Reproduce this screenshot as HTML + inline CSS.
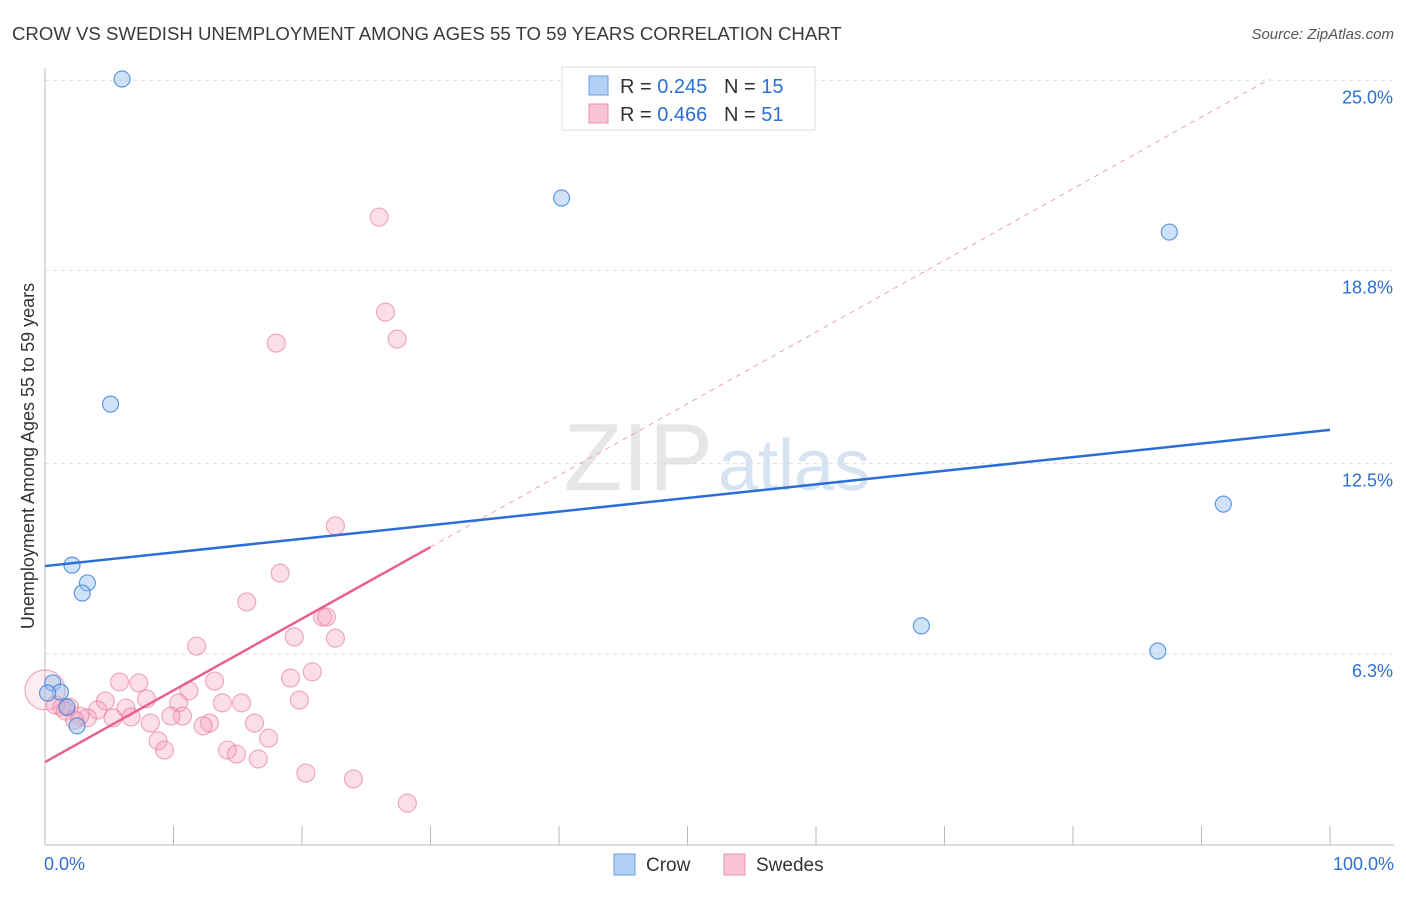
<!DOCTYPE html>
<html><head><meta charset="utf-8"><style>
body{margin:0;background:#fff;font-family:"Liberation Sans",sans-serif;}
svg text{font-family:"Liberation Sans",sans-serif;}
</style></head><body>
<svg id="chart" width="1406" height="892">
<text x="12" y="40" font-size="18.6" fill="#3a3a3a">CROW VS SWEDISH UNEMPLOYMENT AMONG AGES 55 TO 59 YEARS CORRELATION CHART</text>
<text x="1394" y="39" font-size="15" fill="#555" font-style="italic" text-anchor="end">Source: ZipAtlas.com</text>
<text x="713" y="490" font-size="96" fill="#e6e6e6" font-family="Liberation Serif" text-anchor="end">ZIP</text>
<text x="718" y="490" font-size="72" fill="#d5e3f3">atlas</text>
<text transform="translate(34,456) rotate(-90)" font-size="18" fill="#333" text-anchor="middle">Unemployment Among Ages 55 to 59 years</text>
<g id="grid"></g><g id="pts"></g><g id="lines"></g>
<g>
<rect x="562" y="67" width="253" height="63" fill="#fff" stroke="#ddd"/>
<rect x="589" y="76" width="19" height="19" fill="#b3d0f5" stroke="#6a9ee0"/>
<rect x="589" y="104" width="19" height="19" fill="#f9c4d3" stroke="#ec8fab"/>
<text x="620" y="93" font-size="20" fill="#333">R = <tspan fill="#2b6fd6">0.245</tspan>&#160;&#160;&#160;N = <tspan fill="#2b6fd6">15</tspan></text>
<text x="620" y="121" font-size="20" fill="#333">R = <tspan fill="#2b6fd6">0.466</tspan>&#160;&#160;&#160;N = <tspan fill="#2b6fd6">51</tspan></text>
</g>
<g>
<rect x="614" y="854" width="21" height="21" fill="#b3d0f5" stroke="#6a9ee0"/>
<text x="646" y="871" font-size="19" fill="#333">Crow</text>
<rect x="724" y="854" width="21" height="21" fill="#f9c4d3" stroke="#ec8fab"/>
<text x="756" y="871" font-size="19" fill="#333">Swedes</text>
</g>
<text x="44" y="870" font-size="18" fill="#2b6fd6">0.0%</text>
<text x="1394" y="870" font-size="18" fill="#2b6fd6" text-anchor="end">100.0%</text>
</svg>
<script>
const crowX=[6.0,40.2,87.5,5.1,91.7,2.1,3.3,2.9,68.2,86.6,0.6,1.2,0.2,1.7,2.5];
const crowY=[25.04,21.16,20.05,14.44,11.18,9.19,8.61,8.28,7.21,6.39,5.35,5.05,5.02,4.56,3.95];
const swedX=[26.0,26.5,27.4,18.0,22.6,18.3,15.7,21.6,21.9,19.4,22.6,11.8,20.8,19.1,5.8,7.3,13.2,11.2,7.9,4.7,19.8,13.8,15.3,10.4,6.3,4.1,1.9,1.3,10.7,6.7,9.8,5.3,3.3,2.7,8.2,12.8,16.3,12.3,8.8,17.4,9.3,14.2,14.9,16.6,20.3,24.0,28.2,0,0.8,1.6,2.3];
const swedY=[20.54,17.44,16.56,16.43,10.47,8.93,7.99,7.50,7.50,6.85,6.81,6.55,5.71,5.51,5.38,5.35,5.41,5.09,4.83,4.76,4.79,4.70,4.70,4.70,4.53,4.47,4.56,4.56,4.27,4.24,4.27,4.21,4.21,4.27,4.04,4.04,4.04,3.95,3.46,3.55,3.16,3.16,3.03,2.87,2.41,2.22,1.43,5.12,4.63,4.43,4.14];
const yTicks=[25.0,18.8,12.5,6.3];
const yTickLabels=["25.0%","18.8%","12.5%","6.3%"];
const crowFit=[9.16,13.6];
const swedFit=[2.77,9.78];
const swedFitEnd=30;
const NS="http://www.w3.org/2000/svg";
const X=v=>45+v*12.85, Y=v=>847-v*30.67;
function mk(tag,attrs,parent){const e=document.createElementNS(NS,tag);for(const k in attrs)e.setAttribute(k,attrs[k]);document.getElementById(parent).appendChild(e);return e;}
yTicks.forEach((t,i)=>{
 const l=mk('line',{x1:45,x2:1394,y1:Y(t),y2:Y(t),stroke:'#ddd','stroke-dasharray':'4,4'},'grid');
 
 
 const tx=mk('text',{x:1393,y:Y(t)+23,'font-size':18,fill:'#2b6fd6','text-anchor':'end'},'grid');
 tx.textContent=yTickLabels[i];
 
 
});
const ax=mk('line',{x1:45,x2:45,y1:68,y2:845,stroke:'#bbb'},'grid');


const bx=mk('line',{x1:45,x2:1394,y1:845,y2:845,stroke:'#bbb'},'grid');


for(let k=0;k<=10;k++){const t=mk('line',{x1:X(k*10),x2:X(k*10),y1:826,y2:845,stroke:'#bbb'},'grid');
 
 }
swedX.forEach((x,i)=>{const big=x===0;const c=mk('circle',{cx:X(x),cy:Y(swedY[i]),r:(big?20:9),fill:(big?'rgba(245,160,185,0.2)':'rgba(245,160,185,0.35)'),stroke:'rgba(230,120,155,0.6)','stroke-width':1.2},'pts');
 
 });
crowX.forEach((x,i)=>{const c=mk('circle',{cx:X(x),cy:Y(crowY[i]),r:8,fill:'rgba(150,190,240,0.45)',stroke:'rgba(60,130,220,0.8)','stroke-width':1.2},'pts');
 
 });
const slope=(swedFit[1]-swedFit[0])/swedFitEnd;
const d=mk('line',{x1:X(swedFitEnd),y1:Y(swedFit[1]),x2:X(95.3),y2:Y(swedFit[0]+slope*95.3),stroke:'#f0a0b8','stroke-dasharray':'5,5','stroke-width':1},'lines');


const p=mk('line',{x1:X(0),y1:Y(swedFit[0]),x2:X(swedFitEnd),y2:Y(swedFit[1]),stroke:'#e8608c','stroke-width':2.5},'lines');


const b=mk('line',{x1:X(0),y1:Y(crowFit[0]),x2:X(100),y2:Y(crowFit[1]),stroke:'#2b6fd6','stroke-width':2.5},'lines');


</script>
</body></html>
